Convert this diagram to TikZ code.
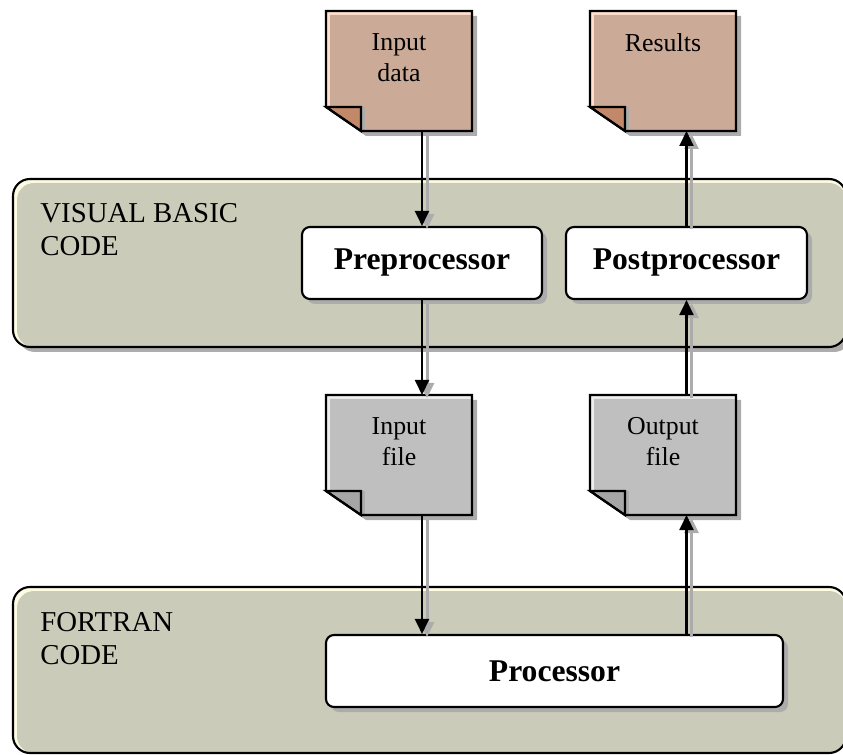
\documentclass[tikz,border=0pt]{standalone}
\usepackage{fontspec}
\setmainfont{Liberation Serif}
\usetikzlibrary{arrows.meta,shadows}
\definecolor{panelfill}{RGB}{203,203,185}
\definecolor{panellight}{RGB}{255,252,228}
\definecolor{brownfill}{RGB}{203,170,152}
\definecolor{brownflap}{RGB}{194,136,106}
\definecolor{brownlight}{RGB}{255,224,206}
\definecolor{grayfill}{RGB}{191,191,191}
\definecolor{grayflap}{RGB}{166,166,166}
\definecolor{graylight}{RGB}{238,238,238}
\definecolor{shadowgray}{RGB}{172,172,172}

\tikzset{
  docnode/.style={rectangle, inner sep=0pt, outer sep=0pt, minimum width=29.2mm, minimum height=24mm},
  doctext/.style={anchor=north, inner sep=0pt, align=center, font={\fontsize{14.7}{17.6}\selectfont}},
  paneltext/.style={anchor=north west, inner sep=0pt, align=left, font={\fontsize{16.4}{18.7}\selectfont}},
  procbox/.style={draw, very thick, fill=white, rounded corners=1.6mm, minimum height=14.4mm, inner sep=0pt,
    font={\fontsize{18}{21}\selectfont\bfseries},
    drop shadow={shadow xshift=1mm, shadow yshift=-1mm, fill=shadowgray, opacity=1}},
  flow/.style={very thick, -{Triangle[length=3mm, width=2.8mm]}},
  flowshadow/.style={line width=0.6mm, shadowgray, -{Triangle[length=3mm, width=2.8mm]},
    transform canvas={xshift=1mm, yshift=-0.6mm}},
}

% 文件图形
\newcommand{\paperdoc}[4]{%
  \begin{scope}[shift={(#1.north west)}]
    \fill[shadowgray] (5,5) -- (151,5) -- (151,125) -- (40,125) -- (5,101) -- cycle;
    \fill[#4] (0,0) -- (146,0) -- (146,120) -- (35,120) -- (0,96) -- cycle;
    \fill[#2] (4,4) -- (146,4) -- (146,120) -- (35,120) -- (4,98.7) -- cycle;
    \fill[shadowgray] (35,96) rectangle (39,120);
    \filldraw[fill=#3, very thick] (0,96) -- (35,96) -- (35,120) -- cycle;
    \draw[very thick] (0,0) -- (146,0) -- (146,120) -- (35,120) -- (0,96) -- cycle;
  \end{scope}}

\begin{document}
\begin{tikzpicture}[x=0.2mm, y=-0.2mm]
	\useasboundingbox (0,0) rectangle (843,755);
	\clip (0,0) rectangle (843,755);
	% 面板
	\fill[shadowgray, rounded corners=3.4mm] (18,184) rectangle (851,352);
	\fill[panellight, rounded corners=3.4mm] (13,179) rectangle (846,347);
	\fill[panelfill, rounded corners=3.4mm] (17,183) rectangle (846,347);
	\draw[very thick, rounded corners=3.4mm] (13,179) rectangle (846,347);
	\fill[panellight, rounded corners=3.4mm] (13,587) rectangle (846,753);
	\fill[panelfill, rounded corners=3.4mm] (17,591) rectangle (846,753);
	\draw[very thick, rounded corners=3.4mm] (13,587) rectangle (846,753);
	\node[paneltext] (vbtext) at (40,203) {VISUAL BASIC\\CODE};
	\node[paneltext] (fortext) at (40,612) {FORTRAN\\CODE};
	% 程序框
	\node[procbox, minimum width=48mm] (preproc) at (422,263) {Preprocessor};
	\node[procbox, minimum width=48.2mm] (postproc) at (686.5,263) {Postprocessor};
	\node[procbox, minimum width=91.4mm] (proc) at (554.5,671) {Processor};
	% 文件
	\node[docnode] (indata) at (399,71) {};
	\node[docnode] (results) at (663,71) {};
	\node[docnode] (infile) at (399,455) {};
	\node[docnode] (outfile) at (663,455) {};
	\paperdoc{indata}{brownfill}{brownflap}{brownlight}
	\paperdoc{results}{brownfill}{brownflap}{brownlight}
	\paperdoc{infile}{grayfill}{grayflap}{graylight}
	\paperdoc{outfile}{grayfill}{grayflap}{graylight}
	\node[doctext] (indatatext) at ([yshift=-4.4mm]indata.north) {Input\\data};
	\node[doctext] (resultstext) at ([yshift=-4.4mm]results.north) {Results};
	\node[doctext] (infiletext) at ([yshift=-4.4mm]infile.north) {Input\\file};
	\node[doctext] (outfiletext) at ([yshift=-4.4mm]outfile.north) {Output\\file};
	% 箭头
	\draw[flowshadow] (preproc.north |- indata.south) -- (preproc.north);
	\draw[flowshadow] (preproc.south) -- (preproc.south |- infile.north);
	\draw[flowshadow] (preproc.south |- infile.south) -- (preproc.south |- proc.north);
	\draw[flowshadow] (postproc.south |- proc.north) -- (postproc.south |- outfile.south);
	\draw[flowshadow] (postproc.south |- outfile.north) -- (postproc.south);
	\draw[flowshadow] (postproc.north) -- (postproc.north |- results.south);
	\draw[flow] (preproc.north |- indata.south) -- (preproc.north);
	\draw[flow] (preproc.south) -- (preproc.south |- infile.north);
	\draw[flow] (preproc.south |- infile.south) -- (preproc.south |- proc.north);
	\draw[flow] (postproc.south |- proc.north) -- (postproc.south |- outfile.south);
	\draw[flow] (postproc.south |- outfile.north) -- (postproc.south);
	\draw[flow] (postproc.north) -- (postproc.north |- results.south);
\end{tikzpicture}
\end{document}
